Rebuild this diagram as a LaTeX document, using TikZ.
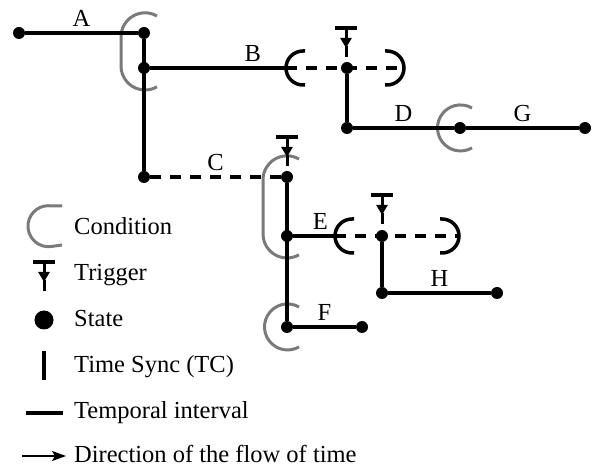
\documentclass[tikz,border=0pt]{standalone}
\usepackage{fontspec}
\setmainfont{Liberation Serif}
\usepackage{xcolor}
\usetikzlibrary{arrows.meta,positioning}
\definecolor{condgray}{HTML}{7A7A7A}

\begin{document}
\begin{tikzpicture}[x=1pt,y=-1pt,>=Latex,
    every node/.style={font=\fontsize{24.5}{29}\selectfont},
    state/.style={circle,fill,inner sep=0pt,minimum size=12pt},
    interval/.style={line width=3.5pt},
    tc/.style={line width=4pt},
    gapped/.style={dash pattern=on 11pt off 9pt},
    cond/.style={draw=condgray,line width=3pt},
    waitarc/.style={line width=3.5pt},
    letter/.style={above,inner sep=4.5pt},
    legend/.style={anchor=base west,inner sep=0pt},
    trigger/.pic={
        \draw[line width=3.5pt] (-11,0) -- (11,0);
        \draw[line width=3pt,-{Triangle[width=11pt,length=10pt]}] (0,0) -- (0,20);
        \draw[line width=3pt] (0,18) -- (0,29);
    }]
        \useasboundingbox (0,0) rectangle (595,470);
        % conditions (behind everything)
        \draw[cond] (157,16) arc[start angle=300,end angle=180,radius=24]
            -- (121,66) arc[start angle=180,end angle=60,radius=24];
        \draw[cond] (299,159) arc[start angle=300,end angle=180,radius=24]
            -- (263,234) arc[start angle=180,end angle=60,radius=24];
        \draw[cond] (472,108) arc[start angle=300,end angle=60,radius=23];
        \draw[cond] (299,307) arc[start angle=300,end angle=60,radius=23];
        % states
        \node[state] (a0) at (19,33) {};
        \node[state] (a1) at (144,33) {};
        \node[state] (b0) at (144,68) {};
        \node[state] (c0) at (144,177) {};
        \node[state] (bx) at (347,68) {};
        \node[state] (d0) at (347,128) {};
        \node[state] (g0) at (460,128) {};
        \node[state] (g1) at (585,128) {};
        \node[state] (c1) at (287,177) {};
        \node[state] (e0) at (287,236) {};
        \node[state] (ex) at (382,236) {};
        \node[state] (h0) at (382,293) {};
        \node[state] (h1) at (497,293) {};
        \node[state] (f0) at (287,327) {};
        \node[state] (f1) at (362,327) {};
        \coordinate (bl) at (286,68);
        \coordinate (br) at (404,68);
        \coordinate (el) at (335,236);
        \coordinate (er) at (459,236);
        % waiting conditions
        \draw[waitarc] (305,51) -- (303,51) arc[start angle=270,end angle=90,radius=17] -- (305,85);
        \draw[waitarc] (385,51) -- (387,51) arc[start angle=-90,end angle=90,radius=17] -- (385,85);
        \draw[waitarc] (354,219) -- (352,219) arc[start angle=270,end angle=90,radius=17] -- (354,253);
        \draw[waitarc] (440,219) -- (442,219) arc[start angle=-90,end angle=90,radius=17] -- (440,253);
        % triggers
        \pic at (346,28) {trigger};
        \pic at (287,137) {trigger};
        \pic at (382,195) {trigger};
        % time syncs
        \draw[tc] (a1) -- (c0);
        \draw[tc] (bx) -- (d0);
        \draw[tc] (c1) -- (f0);
        \draw[tc] (ex) -- (h0);
        % intervals
        \draw[interval] (a0) -- node[letter] {A} (a1);
        \draw[interval] (b0) -- node[letter,pos=0.755] {B} (bl);
        \draw[interval,gapped] (bl) -- (br);
        \draw[interval,gapped] (c0) -- node[letter] {C} (c1);
        \draw[interval] (d0) -- node[letter] {D} (g0);
        \draw[interval] (g0) -- node[letter] {G} (g1);
        \draw[interval] (e0) -- node[letter,pos=0.65] {E} (el);
        \draw[interval,gapped] (el) -- (er);
        \draw[interval] (h0) -- node[letter] {H} (h1);
        \draw[interval] (f0) -- node[letter] {F} (f1);
        % legend
        \draw[cond] (62,206) -- (52,206) arc[start angle=280,end angle=80,radius=20.5] -- (62,245);
        \node[legend] (kcond) at (74,235) {Condition};
        \pic at (44,262) {trigger};
        \node[legend] (ktrig) at (74,281) {Trigger};
        \node[state,minimum size=19pt] (kstate) at (44,320) {};
        \node[legend] (kstatetxt) at (74,327) {State};
        \draw[tc] (44,351) -- (44,380);
        \node[legend] (ksync) at (74,373) {Time Sync (TC)};
        \draw[line width=4.5pt] (26,413) -- (63,413);
        \node[legend] (kint) at (74,419) {Temporal interval};
        \draw[line width=2pt,-{Stealth[length=14pt,width=10pt,inset=3pt]}] (22,456) -- (66,456);
        \node[legend] (kdir) at (74,463) {Direction of the flow of time};
      \end{tikzpicture}
\end{document}
